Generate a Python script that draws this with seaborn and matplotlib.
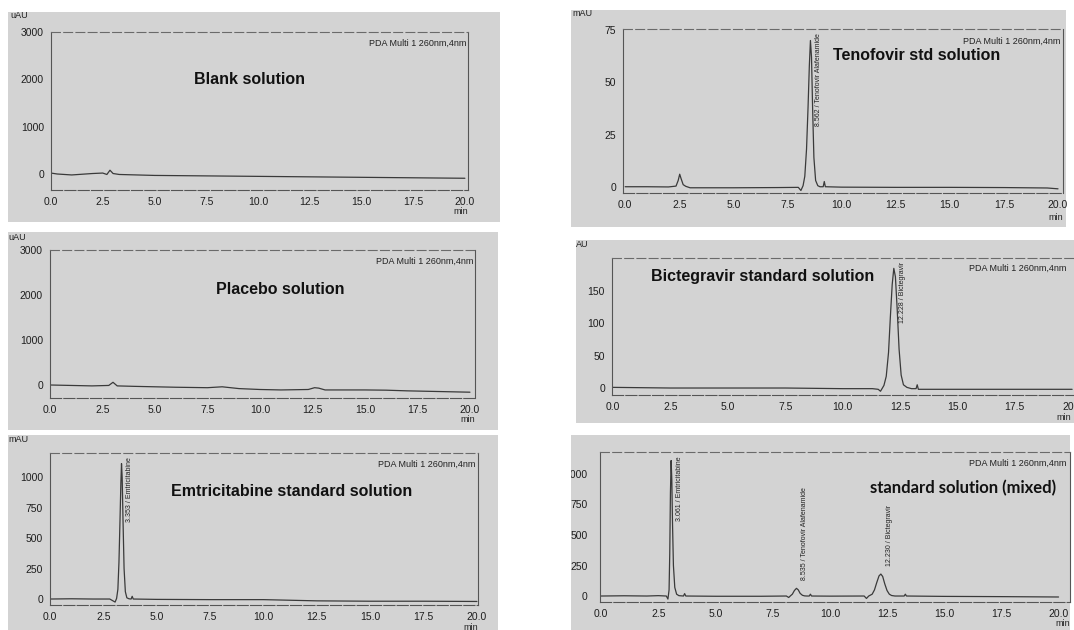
import matplotlib
matplotlib.use("Agg")
import matplotlib.pyplot as plt
from matplotlib.patches import Rectangle
from matplotlib.ticker import MultipleLocator, AutoMinorLocator
import seaborn as sns
import pandas as pd

# ---------------- data ----------------
blank_t = [0, 0.3, 1.0, 2.0, 2.5, 2.7, 2.85, 3.0, 3.3, 5, 7.5, 10, 12.5, 15, 17.5, 20]
blank_v = [20, 0, -20, 10, 20, -10, 80, 10, -10, -30, -40, -50, -60, -70, -80, -90]

teno_t = [0, 1, 2, 2.35, 2.45, 2.52, 2.58, 2.68, 2.8, 3.0, 5, 7, 8.0, 8.12, 8.22, 8.3, 8.38,
          8.45, 8.51, 8.56, 8.61, 8.66, 8.72, 8.8, 8.9, 9.0, 9.15, 9.2, 9.25, 10, 12.5, 15,
          17.5, 19.5, 20]
teno_v = [0, 0, -0.1, 0.3, 3, 6, 4, 1, 0.2, -0.5, -0.5, -0.4, -0.3, -1.8, 0.5, 5, 18,
          38, 58, 70, 62, 38, 14, 3, 0.5, 0, 0, 2.5, 0, -0.2, -0.3, -0.3,
          -0.4, -0.6, -1.0]

placebo_t = [0, 1, 2, 2.8, 3.0, 3.2, 4, 5, 6, 7.5, 8.2, 9, 10, 11, 12.3, 12.6, 12.8, 13.1,
             14, 15, 16, 17, 18, 19, 20]
placebo_v = [0, -10, -20, -10, 60, -20, -30, -40, -50, -60, -40, -80, -100, -110, -100, -60,
             -70, -110, -110, -110, -115, -130, -140, -150, -160]

bicte_t = [0, 2.5, 5, 7.5, 10, 11.3, 11.55, 11.65, 11.8, 11.9, 12.0, 12.08, 12.16, 12.23,
           12.3, 12.38, 12.46, 12.55, 12.65, 12.8, 13.0, 13.2, 13.25, 13.3, 15, 17.5, 20]
bicte_v = [1, 0, 0, 0, -1, -1, -2, -5, 4, 18, 55, 110, 160, 185,
           172, 120, 60, 20, 5, 1, -1, -1, 5, -2, -2, -2, -2]

emtri_t = [0, 1.0, 2.0, 2.8, 3.05, 3.12, 3.18, 3.23, 3.28, 3.32, 3.35, 3.38, 3.42, 3.47,
           3.53, 3.6, 3.7, 3.8, 3.85, 3.9, 5, 7.5, 10, 12.5, 15, 17.5, 20]
emtri_v = [0, 2, 0, 0, -25, 5, 80, 300, 650, 950, 1110, 1000, 650, 250,
           60, 10, 2, 0, 22, 0, -3, -5, -5, -15, -18, -18, -20]

mix_t = [0, 1, 2, 2.5, 2.85, 2.92, 2.97, 3.0, 3.03, 3.06, 3.09, 3.12, 3.16, 3.22, 3.3, 3.4,
         3.6, 3.65, 3.7, 5, 7, 8.1, 8.2, 8.28, 8.36, 8.45, 8.54, 8.62, 8.7, 8.8, 8.9, 9.0,
         9.1, 9.15, 9.2, 10, 11.5, 11.6, 11.7, 11.85, 11.95, 12.05, 12.15, 12.23, 12.31,
         12.4, 12.5, 12.6, 12.7, 12.85, 13.25, 13.3, 13.35, 15, 17.5, 20]
mix_v = [0, 2, 0, 3, 0, -25, 50, 350, 850, 1110, 950, 600, 250, 70, 15, 3,
         0, 20, 0, -2, -2, 0, -12, 2, 15, 45, 63, 50, 22, 6, 1, 0,
         0, 15, 0, -1, 0, -20, 0, 15, 50, 110, 165, 180, 160,
         100, 45, 15, 4, 0, 0, 15, 0, -3, -5, -8]

titles = ["Blank solution", "Tenofovir std solution", "Placebo solution",
          "Bictegravir standard solution", "Emtricitabine standard solution",
          "standard solution (mixed)"]
units = ["uAU", "mAU", "uAU", "AU", "mAU", ""]
detector = "PDA Multi 1 260nm,4nm"
peak_labels = [[], [(8.562, "8.562 / Tenofovir Alafenamide", 70)], [],
               [(12.228, "12.228 / Bictegravir", 185)],
               [(3.353, "3.353 / Emtricitabine", 1110)],
               [(3.061, "3.061 / Emtricitabine", 1110),
                (8.535, "8.535 / Tenofovir Alafenamide", 63),
                (12.230, "12.230 / Bictegravir", 180)]]
yticks = [[0, 1000, 2000, 3000], [0, 25, 50, 75], [0, 1000, 2000, 3000],
          [0, 50, 100, 150], [0, 250, 500, 750, 1000], [0, 250, 500, 750, 1000]]
xticks = [0.0, 2.5, 5.0, 7.5, 10.0, 12.5, 15.0, 17.5, 20.0]
series = [(blank_t, blank_v), (teno_t, teno_v), (placebo_t, placebo_v),
          (bicte_t, bicte_v), (emtri_t, emtri_v), (mix_t, mix_v)]

# ---------------- layout (pixels) ----------------
W, H = 1074, 630
sns.set_style("white")
plt.rcParams['font.family'] = ['Liberation Sans', 'DejaVu Sans']

fig = plt.figure(figsize=(W / 100, H / 100), dpi=100)
fig.patch.set_facecolor('white')
BG = '#d3d3d3'
INK = '#3a3a3a'
NARROW = ['Liberation Sans', 'DejaVu Sans']


def fr(l, t, r, b):
    return [l / W, 1 - b / H, (r - l) / W, (b - t) / H]


def fx(x):
    return x / W


def fy(y):
    return 1 - y / H


bg_boxes = [(8, 12, 500, 222), (571, 10, 1066, 227), (8, 232, 498, 430),
            (576, 240, 1074, 423), (8, 435, 498, 630), (571, 435, 1070, 630)]
ax_boxes = [(51, 32, 468, 190), (623, 29, 1063, 193), (50, 250, 475, 398),
            (612, 258, 1079, 395), (50, 453, 478, 605), (600, 452, 1070, 602)]
xlims = [(0, 20.15), (-0.1, 20.23), (0, 20.24), (-0.05, 20.3), (0, 20.05), (-0.05, 20.5)]
ylims = [(-338, 3000), (-3, 75.5), (-289, 3000), (-10.8, 201), (-49, 1197), (-49, 1180)]
title_pos = [(249, 80), (917, 55), (280, 290), (763, 277), (292, 492), (963, 488)]
title_font = [NARROW] * 5 + [['Lato', 'DejaVu Sans']]
title_size = [11.5, 11.5, 11.5, 11.5, 11.5, 12]
unit_pos = [(10, 16), (572, 14), (8, 237), (576, 245), (8, 440), (0, 0)]
min_y = [212, 217, 420, 418, 627, 623]
ytick_pad = [2, 2, 2, 2, 2, 6]

for i in range(6):
    l, t, r, b = bg_boxes[i]
    fig.patches.append(Rectangle((fx(l), fy(b)), (r - l) / W, (b - t) / H,
                                 transform=fig.transFigure, facecolor=BG,
                                 edgecolor='none', zorder=-10))
    ax = fig.add_axes(fr(*ax_boxes[i]))
    ax.set_zorder(1)
    ax.set_facecolor(BG)
    df = pd.DataFrame({"t": series[i][0], "v": series[i][1]})
    sns.lineplot(data=df, x="t", y="v", ax=ax, color=INK, lw=0.9,
                 estimator=None, sort=False)
    ax.set_xlim(*xlims[i])
    ax.set_ylim(*ylims[i])
    ax.set_xticks(xticks)
    ax.set_xticklabels([f"{v:.1f}" for v in xticks])
    ax.set_yticks(yticks[i])
    ax.xaxis.set_minor_locator(MultipleLocator(0.5))
    ax.yaxis.set_minor_locator(AutoMinorLocator(5))
    ax.set_xlabel("")
    ax.set_ylabel("")
    ax.tick_params(axis='both', which='major', labelsize=7.5, labelcolor='#1e1e1e',
                   color='#555555', width=0.7, length=3, pad=2)
    ax.tick_params(axis='x', which='both', direction='in')
    ax.tick_params(axis='x', which='major', pad=5)
    ax.tick_params(axis='y', which='both', direction='out')
    ax.tick_params(axis='y', which='major', pad=ytick_pad[i])
    ax.tick_params(axis='both', which='minor', length=1.8, width=0.5, color='#666666')
    for s in ['left', 'right', 'bottom']:
        ax.spines[s].set_color('#555555')
        ax.spines[s].set_linewidth(0.8)
    ax.spines['top'].set_color('#6a6a6a')
    ax.spines['top'].set_linewidth(0.8)
    ax.spines['top'].set_linestyle((0, (8, 3)))
    ax.spines['bottom'].set_linestyle((0, (10, 2)))
    ax.grid(False)

    ax.text(min(0.995, (1066 - ax_boxes[i][0]) / (ax_boxes[i][2] - ax_boxes[i][0])),
            0.955, detector, transform=ax.transAxes, ha='right', va='top',
            fontsize=6.5, color='#222222')
    mx = min(ax_boxes[i][2], 1071)
    ax.text(fx(mx), fy(min_y[i]), "min", transform=fig.transFigure, ha='right',
            va='center', fontsize=6.5, color='#222222')

    top = ylims[i][1]
    for (pt, lab, ph) in peak_labels[i]:
        if ph > 0.5 * top:
            ax.annotate(lab, xy=(pt, top), xytext=(3.5, -3), textcoords='offset points',
                        rotation=90, ha='left', va='top', fontsize=5,
                        family=NARROW, color='#222222')
        else:
            ax.annotate(lab, xy=(pt, ph), xytext=(3.5, 6), textcoords='offset points',
                        rotation=90, ha='left', va='bottom', fontsize=5,
                        family=NARROW, color='#222222')

    tx, ty = title_pos[i]
    ax.text(fx(tx), fy(ty), titles[i], transform=fig.transFigure, ha='center',
            va='center', fontsize=title_size[i], fontweight='bold',
            family=title_font[i], color='#111111')
    if units[i]:
        ux, uy = unit_pos[i]
        fig.text(fx(ux), fy(uy), units[i], ha='left', va='center', fontsize=6.5,
                 color='#222222')

# white margin that cuts the left of the last panel's tick labels
fig.add_artist(Rectangle((fx(500), fy(630)), 71 / W, 195 / H, transform=fig.transFigure,
                         facecolor='white', edgecolor='none', zorder=5))

fig.savefig("out.png", dpi=100, facecolor='white')
